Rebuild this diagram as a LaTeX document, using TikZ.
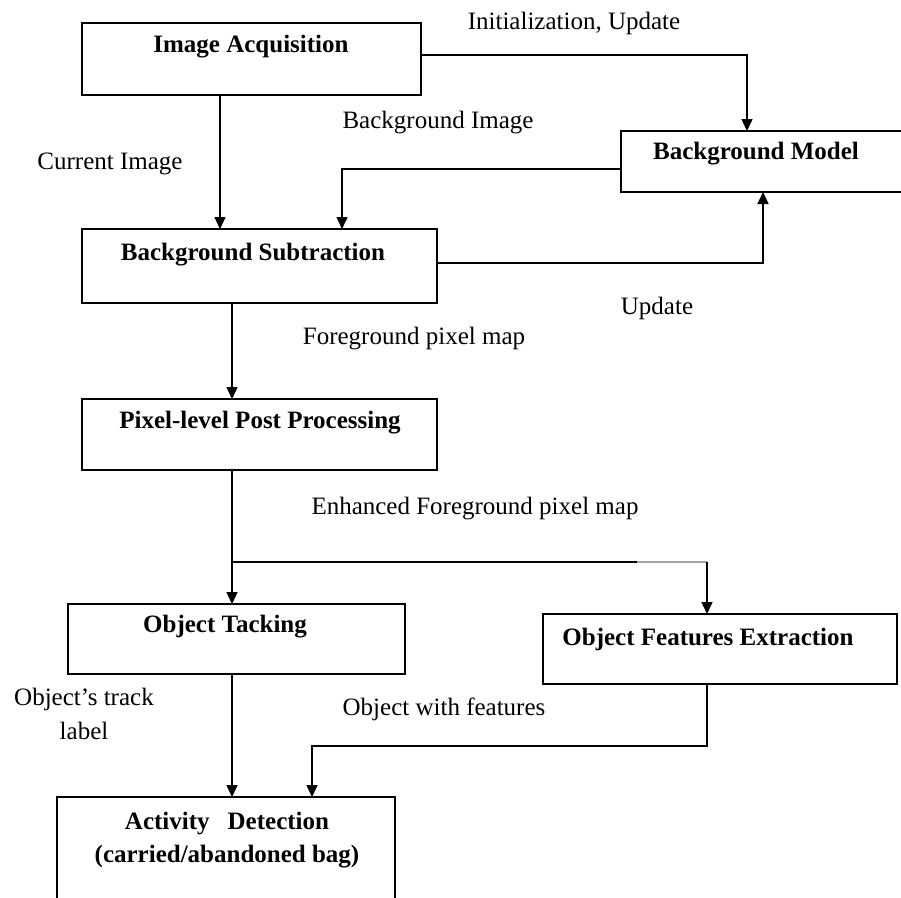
\documentclass[tikz,border=0pt]{standalone}
\usepackage{fontspec}
\setmainfont{Liberation Serif}
\usetikzlibrary{arrows.meta}
\begin{document}
\begin{tikzpicture}[x=1pt,y=-1pt,
  box/.style={draw, line width=1.5pt, inner sep=0pt, outer sep=0pt, anchor=north west},
  ttl/.style={font=\fontsize{25}{34}\selectfont\bfseries, inner sep=0pt, align=center},
  lbl/.style={font=\fontsize{25}{34}\selectfont, inner sep=0pt, align=center},
  arr/.style={line width=1.5pt, -{Triangle[length=12pt,width=11pt]}},
  ln/.style={line width=1.5pt}]
\useasboundingbox (0,0) rectangle (901,897);
% boxes
\node[box, minimum width=339pt, minimum height=72pt] (ia) at (82,23) {};
\node[box, minimum width=284pt, minimum height=61pt] (bm) at (621,131) {};
\node[box, minimum width=355pt, minimum height=74pt] (bs) at (82,229) {};
\node[box, minimum width=355pt, minimum height=71pt] (pp) at (82,399) {};
\node[box, minimum width=337pt, minimum height=70pt] (ot) at (68,604) {};
\node[box, minimum width=354pt, minimum height=70pt] (ofe) at (543,614) {};
\node[box, minimum width=338pt, minimum height=110pt] (ad) at (57,797) {};
% box titles
\node[ttl] (tia) at (251,47) {Image Acquisition};
\node[ttl] (tbm) at (756,154) {Background Model};
\node[ttl] (tbs) at (253,255) {Background Subtraction};
\node[ttl] (tpp) at (260,423) {Pixel-level Post Processing};
\node[ttl] (tot) at (225,627) {Object Tacking};
\node[ttl] (tofe) at (708,639) {Object Features Extraction};
\node[ttl] (tad1) at (227,824) {Activity\hspace{18pt}Detection};
\node[ttl] (tad2) at (227,857) {(carried/abandoned bag)};
% labels
\node[lbl] (l1) at (574,23) {Initialization, Update};
\node[lbl] (l2) at (438,123) {Background Image};
\node[lbl] (l3) at (110,164) {Current Image};
\node[lbl] (l4) at (657,308) {Update};
\node[lbl] (l5) at (414,339) {Foreground pixel map};
\node[lbl] (l6) at (475,509) {Enhanced Foreground pixel map};
\node[lbl] (l7) at (84,714) {Object’s track\\label};
\node[lbl] (l8) at (444,709) {Object with features};
% connectors
\draw[arr] ([yshift=4pt]ia.east) -| ([xshift=-16pt]bm.north);
\draw[arr] ([xshift=-31.5pt]ia.south) -- ([xshift=-31.5pt]ia.south |- bs.north);
\draw[arr] ([yshift=-7.5pt]bm.west) -| ([xshift=82.5pt]bs.north);
\draw[arr] ([yshift=3pt]bs.east) -| (bm.south);
\draw[arr] ([xshift=-27.5pt]bs.south) -- ([xshift=-27.5pt]pp.north);
\draw[arr] ([xshift=-27.5pt]pp.south) -- ([xshift=-27.5pt]pp.south |- ot.north);
\coordinate (br) at ([xshift=-27.5pt]pp.south |- 0,562);
\coordinate (g1) at (637,562);
\coordinate (g2) at ([xshift=-13pt]ofe.north |- br);
\draw[ln] (br) -- (g1);
\draw[ln, gray!70] (g1) -- (g2);
\draw[arr] (g2) -- ([xshift=-13pt]ofe.north);
\draw[arr] ([xshift=-4.5pt]ot.south) -- ([xshift=-4.5pt]ot.south |- ad.north);
\draw[arr] ([xshift=-13pt]ofe.south) -- ++(0,62) -| ([xshift=86pt]ad.north);
\end{tikzpicture}
\end{document}
